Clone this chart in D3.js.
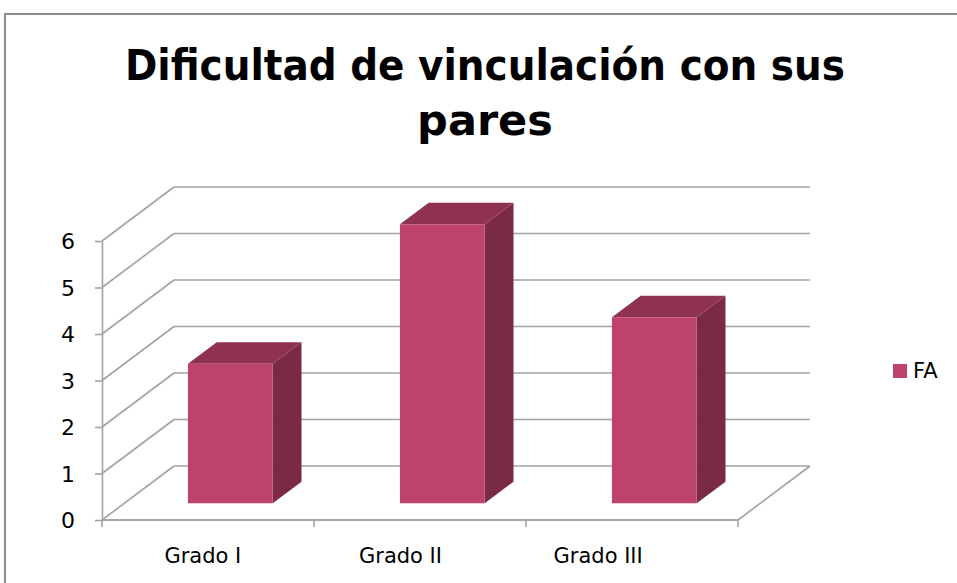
<!DOCTYPE html>
<html><head><meta charset="utf-8">
<script src="https://cdn.jsdelivr.net/npm/d3@7"></script>
<style>body{margin:0;background:#fff}svg{display:block}</style>
</head><body>
<svg id="chart" width="957" height="583"></svg>
<script>
const titleLines = ["Dificultad de vinculación con sus", "pares"];
const categories = ["Grado I", "Grado II", "Grado III"];
const seriesName = "FA";
const values = [3, 6, 4];
const yTicks = [0, 1, 2, 3, 4, 5, 6];

const svg = d3.select("#chart");
const W = 957, H = 583;
const font = "'DejaVu Sans', Verdana, sans-serif";
const gridColor = "#a3a3a3";

// frame
svg.append("rect").attr("x", 5).attr("y", 14).attr("width", W + 10).attr("height", H + 10)
  .attr("fill", "#fff").attr("stroke", "#8c8c8c").attr("stroke-width", 2);

// scales
const y = d3.scaleLinear().domain([0, 6]).range([520, 241]);
const x = d3.scaleBand().domain(categories).range([102, 738]).paddingInner(0).paddingOuter(0);
const xLabel = d3.scaleBand().domain(categories).range([104, 697]);
const DX = 72, DY = -54;
const proj = (px, v, z) => [px + z * DX, y(v) + z * DY];

const g = svg.append("g");
const line = (a, b) => g.append("line").attr("x1", a[0]).attr("y1", a[1]).attr("x2", b[0]).attr("y2", b[1])
  .attr("stroke", gridColor).attr("stroke-width", 1.6);

const x0 = x.range()[0], x1 = x.range()[1];
// floor
line(proj(x0, 0, 0), proj(x1, 0, 0));
line(proj(x1, 0, 0), proj(x1, 0, 1));
// walls / gridlines
yTicks.forEach(v => {
  line(proj(x0, v, 0), proj(x0, v, 1));
  line(proj(x0, v, 1), proj(x1, v, 1));
});

// bars
const zF = 0.31, zB = 0.71;
const bw = x.bandwidth() * 0.4;
const bars = g.selectAll(".bar").data(categories.map((c, i) => ({c, v: values[i]}))).enter().append("g");
const poly = pts => pts.map(p => p.join(",")).join(" ");
bars.each(function(d) {
  const gx = d3.select(this);
  const l = x(d.c) + (x.bandwidth() - bw) / 2, r = l + bw;
  gx.append("polygon").attr("points", poly([proj(r, 0, zF), proj(r, 0, zB), proj(r, d.v, zB), proj(r, d.v, zF)]))
    .attr("fill", "#7a2a47");
  gx.append("polygon").attr("points", poly([proj(l, d.v, zF), proj(r, d.v, zF), proj(r, d.v, zB), proj(l, d.v, zB)]))
    .attr("fill", "#8f3151");
  const a = proj(l, 0, zF), b = proj(r, d.v, zF);
  gx.append("rect").attr("x", a[0]).attr("y", b[1]).attr("width", b[0] - a[0]).attr("height", a[1] - b[1])
    .attr("fill", "#bd436b");
});

// y axis
const yAxis = svg.append("g").attr("transform", `translate(${x0},0)`)
  .call(d3.axisLeft(y).tickValues(yTicks).tickFormat(d3.format("d")).tickSize(7).tickSizeOuter(0).tickPadding(20));
yAxis.select(".domain").attr("stroke", gridColor).attr("stroke-width", 1.6);
yAxis.selectAll(".tick line").attr("stroke", gridColor).attr("stroke-width", 1.6);
yAxis.selectAll("text").attr("font-family", font).attr("font-size", 22).attr("fill", "#000").attr("dy", "0.36em");

// x axis
const xa = svg.append("g");
xa.append("line").attr("x1", x0).attr("x2", x1).attr("y1", y(0)).attr("y2", y(0))
  .attr("stroke", gridColor).attr("stroke-width", 1.6);
const tickPos = categories.map(c => x(c)).concat([x1]);
xa.selectAll(".xt").data(tickPos).enter().append("line")
  .attr("x1", d => d).attr("x2", d => d).attr("y1", y(0)).attr("y2", y(0) + 7)
  .attr("stroke", gridColor).attr("stroke-width", 1.6);
xa.selectAll(".xl").data(categories).enter().append("text")
  .attr("x", d => xLabel(d) + xLabel.bandwidth() / 2).attr("y", 563)
  .attr("text-anchor", "middle").attr("font-family", font).attr("font-size", 21).attr("fill", "#000")
  .text(d => d);

// title
const t = svg.append("g");
titleLines.forEach((s, i) => {
  const tx = t.append("text").attr("x", 485).attr("y", 80 + i * 55).attr("text-anchor", "middle")
    .attr("font-family", font).attr("font-weight", "bold").attr("font-size", 43).attr("fill", "#000").text(s);
  if (i === 0) {
    const len = tx.node().getComputedTextLength();
    if (len > 720) tx.attr("textLength", 720).attr("lengthAdjust", "spacingAndGlyphs");
  }
});

// legend
const lg = svg.append("g");
lg.append("rect").attr("x", 893).attr("y", 364).attr("width", 14).attr("height", 14).attr("fill", "#bd436b");
lg.append("text").attr("x", 913).attr("y", 378).attr("font-family", font).attr("font-size", 21).attr("fill", "#000").text(seriesName);
</script>
</body></html>
